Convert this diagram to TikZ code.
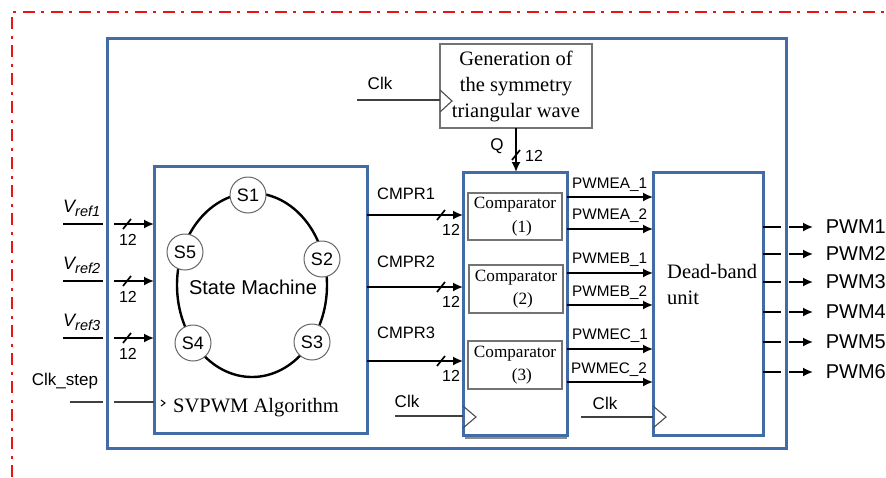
\documentclass[tikz,border=0pt]{standalone}
\usepackage{fontspec}
\setmainfont{Liberation Serif}
\setsansfont{Liberation Sans}
\usetikzlibrary{arrows.meta,calc}
\definecolor{boxblue}{RGB}{66,108,165}
\definecolor{framered}{RGB}{235,20,20}

% short diagonal stroke across a bus line
\newcommand\busslash[1]{\draw[sig] ($(#1)+(-4,5)$) -- ($(#1)+(4,-5)$);}

\begin{document}
\begin{tikzpicture}[x=1pt,y=-1pt,
  blueblock/.style={draw=boxblue,line width=3pt,inner sep=0pt,outer sep=0pt,anchor=north west},
  graybox/.style={draw=black!55,line width=1.2pt,fill=white,inner sep=0pt,outer sep=0pt,anchor=north west,align=center},
  sig/.style={line width=1.7pt},
  arr/.style={sig,-{Latex[length=10pt,width=9pt]}},
  clkline/.style={line width=1.3pt,draw=black!75},
  clktri/.style={line width=1.1pt,draw=black!70},
  lab/.style={font=\sffamily\fontsize{16}{18}\selectfont,inner sep=0pt},
  biglab/.style={font=\sffamily\fontsize{20}{22}\selectfont,inner sep=0pt},
  serifbig/.style={font=\fontsize{20.5}{26}\selectfont,inner sep=0pt},
  cmpfont/.style={font=\fontsize{17.2}{23.5}\selectfont},
  state/.style={circle,draw=black!60,line width=1pt,fill=white,minimum size=36pt,inner sep=0pt,font=\sffamily\fontsize{18}{18}\selectfont},
  frameline/.style={draw=framered,line width=2pt,dash pattern=on 12pt off 6pt on 3pt off 7pt},
]
\useasboundingbox (0,0) rectangle (886,477);

% dash-dotted frame
\draw[frameline] (12,477) -- (12,12) -- (886,12);

% main blocks
\node[blueblock,minimum width=679pt,minimum height=410pt] (outer) at (107,38) {};
\node[blueblock,minimum width=213pt,minimum height=267pt] (svpwm) at (154,166) {};
\node[blueblock,minimum width=104pt,minimum height=263pt] (cmp) at (463,172) {};
\node[blueblock,minimum width=110pt,minimum height=263pt] (db) at (653,172) {};
\draw[black!45,line width=2pt] ($(cmp.south west)+(2,3)$) -- ($(cmp.south east)+(0,3)$);

% triangular wave generator
\node[graybox,minimum width=152pt,minimum height=84pt,font=\fontsize{20.5}{26}\selectfont] (gen) at (440,44)
  {\raisebox{-2pt}{\parbox{150pt}{\centering Generation of\\the symmetry\\triangular wave}}};

% comparators
\node[graybox,minimum width=94pt,minimum height=47pt,cmpfont] (c1) at (468,193) {Comparator\\\hspace*{0.8em}(1)};
\node[graybox,minimum width=94pt,minimum height=48pt,cmpfont] (c2) at (469,265) {Comparator\\\hspace*{0.8em}(2)};
\node[graybox,minimum width=94pt,minimum height=48pt,cmpfont] (c3) at (468,341) {Comparator\\\hspace*{0.8em}(3)};

% dead-band text
\node[serifbig,anchor=west,align=left] (dbtext) at (667,284) {Dead-band\\unit};

% state machine
\draw[line width=2.4pt] (252,285) ellipse [x radius=75, y radius=92];
\node[state] (s1) at (248,195) {S1};
\node[state] (s2) at (322,259) {S2};
\node[state] (s3) at (312,342) {S3};
\node[state] (s4) at (193,343) {S4};
\node[state] (s5) at (185,252) {S5};
\node[biglab] (smtext) at (253,287) {State Machine};
\node[serifbig,anchor=west] (svtext) at (173,408) {SVPWM Algorithm};
\draw[line width=1pt] (161,400) -- (165,403) -- (161,406);

% reference inputs
\foreach \i/\y in {1/224,2/281,3/338}{
  \coordinate (vin\i) at (63,\y);
  \draw[sig] (vin\i) -- ($(outer.west |- vin\i)+(-4,0)$);
  \draw[arr] ($(outer.west |- vin\i)+(7,0)$) -- (svpwm.west |- vin\i);
  \coordinate (vs\i) at (127,\y);
  \busslash{vs\i}
  \node[lab] (vw\i) at ($(vs\i)+(1,16)$) {12};
  \node[inner sep=0pt,anchor=base west,font=\sffamily\itshape\fontsize{18}{18}\selectfont] (vl\i)
    at ($(vin\i)+(0,-12)$) {V\raisebox{-4pt}{\fontsize{14.5}{14.5}\selectfont ref\i}};
}

% step clock
\coordinate (cs) at (70,402);
\node[lab,font=\sffamily\fontsize{17}{18}\selectfont] (cslab) at (65,381) {Clk\_step};
\draw[clkline] (cs) -- ($(outer.west |- cs)+(-4,0)$);
\draw[clkline] ($(outer.west |- cs)+(7,0)$) -- (svpwm.west |- cs);

% compare values to comparators
\foreach \i/\y/\ly in {1/215/199,2/287/267,3/361/338}{
  \draw[arr] (svpwm.east |- 0,\y) -- (cmp.west |- 0,\y);
  \coordinate (cm\i) at (441,\y);
  \busslash{cm\i}
  \node[lab] (cw\i) at ($(cm\i)+(10,15)$) {12};
  \node[lab,anchor=base west,font=\sffamily\fontsize{16.5}{18}\selectfont] (cl\i) at (377,\ly) {CMPR\i};
}

% triangular wave to comparators
\draw[arr] (gen.south) -- (gen.south |- cmp.north);
\coordinate (qs) at (516,155);
\busslash{qs}
\node[lab,font=\sffamily\fontsize{17}{18}\selectfont] (qlab) at (497,146) {Q};
\node[lab] (qw) at (534,156) {12};

% clock of the wave generator
\coordinate (clkg) at (357,100);
\draw[clkline] (clkg) -- (gen.west |- clkg);
\node[lab,font=\sffamily\fontsize{17}{18}\selectfont] (clkglab) at (380,83) {Clk};
\draw[clktri] (440,90) -- (452,101) -- (440,112);

% clock of the comparators
\coordinate (clkc) at (395,416);
\draw[clkline] (clkc) -- (cmp.west |- clkc);
\node[lab,font=\sffamily\fontsize{17}{18}\selectfont] (clkclab) at (407,401) {Clk};
\draw[clktri] (463,406) -- (476,417) -- (463,428);

% clock of the dead-band unit
\coordinate (clkd) at (581,417);
\draw[clkline] (clkd) -- (db.west |- clkd);
\node[lab,font=\sffamily\fontsize{17}{18}\selectfont] (clkdlab) at (605,403) {Clk};
\draw[clktri] (653,406) -- (666,417) -- (653,428);

% comparator outputs
\foreach \y in {197,229,273,305,349,382}{
  \draw[arr] (cmp.east |- 0,\y) -- (db.west |- 0,\y);
}
\node[lab,anchor=base west,font=\sffamily\fontsize{15.3}{16}\selectfont] (pa1) at (572,188.5) {PWMEA\_1};
\node[lab,anchor=base west,font=\sffamily\fontsize{15.3}{16}\selectfont] (pa2) at (572,219) {PWMEA\_2};
\node[lab,anchor=base west,font=\sffamily\fontsize{15.3}{16}\selectfont] (pb1) at (572,263) {PWMEB\_1};
\node[lab,anchor=base west,font=\sffamily\fontsize{15.3}{16}\selectfont] (pb2) at (572,296) {PWMEB\_2};
\node[lab,anchor=base west,font=\sffamily\fontsize{15.3}{16}\selectfont] (pc1) at (572,339) {PWMEC\_1};
\node[lab,anchor=base west,font=\sffamily\fontsize{15.3}{16}\selectfont] (pc2) at (571,373) {PWMEC\_2};

% PWM outputs
\foreach \i/\y in {1/227,2/254,3/282,4/312,5/342,6/372}{
  \draw[sig] (db.east |- 0,\y) -- ($(outer.east |- 0,\y)+(-5,0)$);
  \draw[arr] ($(outer.east |- 0,\y)+(3,0)$) -- ++(24,0) node[biglab,anchor=west,xshift=12pt] (pwm\i) {PWM\i};
}
\end{tikzpicture}
\end{document}
